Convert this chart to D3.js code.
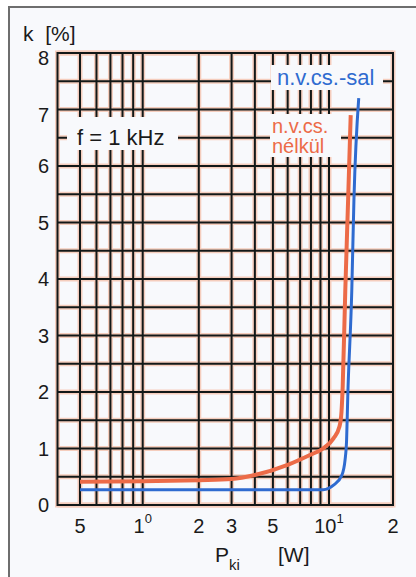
<!DOCTYPE html>
<html><head><meta charset="utf-8">
<script src="https://cdn.jsdelivr.net/npm/d3@7/dist/d3.min.js"></script>
<style>
html,body{margin:0;padding:0;background:#fff;}
svg{display:block;font-family:"Liberation Sans",Arial,Helvetica,sans-serif;}
</style></head>
<body>
<svg id="c" width="416" height="577"></svg>
<script>
// ---- data ----
const xTicks = [0.5, 1, 2, 3, 5, 10, 20];
const xTickBase = ["5", "1", "2", "3", "5", "10", "2"];
const xTickSup = ["", "0", "", "", "", "1", ""];
const xGrid = [0.5, 0.6, 0.7, 0.8, 0.9, 1, 2, 3, 4, 5, 6, 7, 8, 9, 10];
const yTicks = [0, 1, 2, 3, 4, 5, 6, 7, 8];
const yGrid = [0, 0.5, 1, 1.5, 2, 2.5, 3, 3.5, 4, 4.5, 5, 5.5, 6, 6.5, 7, 7.5, 8];
// n.v.cs.-sal (with negative feedback)
const pSal = [0.5, 1, 2, 5, 9.3, 10.5, 11.5, 11.9, 12.1, 12.25, 12.8, 13.1, 13.8];
const kSal = [0.27, 0.27, 0.27, 0.27, 0.27, 0.35, 0.53, 0.80, 1.15, 1.9, 3.8, 5.4, 7.2];
// n.v.cs. nélkül (without negative feedback)
const pNel = [0.5, 1, 2, 3, 4, 6, 7.9, 9.3, 10.5, 11.2, 11.45, 11.6, 11.93, 12.3, 12.65];
const kNel = [0.41, 0.42, 0.44, 0.46, 0.53, 0.71, 0.885, 1.0, 1.18, 1.39, 1.65, 2.1, 3.8, 5.4, 6.9];

// ---- layout ----
const svg = d3.select("#c");
const bg = "#f8f9fc";
const x = d3.scaleLog().domain([0.39, 1, 10, 20]).range([57.5, 142.7, 329, 393]);
const y = d3.scaleLinear().domain([0, 8]).range([505, 53]);

// outer frame
svg.append("rect").attr("x", 0).attr("y", 0).attr("width", 416).attr("height", 577).attr("fill", "#fff");
svg.append("rect").attr("x", 9).attr("y", 7).attr("width", 430).attr("height", 600)
  .attr("fill", bg).attr("stroke", "#6e6e6e").attr("stroke-width", 2);

const g = svg.append("g");
const [x0, x1] = [x.range()[0], x.range()[x.range().length - 1]];
const [yb, yt] = y.range();

function gridLayer(color, width) {
  const l = g.append("g").attr("stroke", color).attr("stroke-width", width).attr("fill", "none");
  l.selectAll("line.v").data(xGrid).join("line").attr("class", "v")
    .attr("x1", d => x(d)).attr("x2", d => x(d)).attr("y1", yb).attr("y2", yt);
  l.selectAll("line.h").data(yGrid).join("line").attr("class", "h")
    .attr("x1", x0).attr("x2", x1).attr("y1", d => y(d)).attr("y2", d => y(d));
  l.append("rect").attr("x", x0).attr("y", yt).attr("width", x1 - x0).attr("height", yb - yt);
}
gridLayer("#f5cdbd", 5);
gridLayer("#121818", 2);

// label knockouts
function knock(x, y, w, h) {
  g.append("rect").attr("x", x).attr("y", y).attr("width", w).attr("height", h).attr("fill", bg);
}
knock(67, 117, 111, 33);
knock(271, 65, 112, 25);
knock(270, 114, 71, 43);

// curves
const line = d3.line().x(d => x(d[0])).y(d => y(d[1])).curve(d3.curveMonotoneX);
g.append("path").datum(pNel.map((p, i) => [p, kNel[i]])).attr("d", line)
  .attr("fill", "none").attr("stroke", "#ec6b48").attr("stroke-width", 4).attr("stroke-linecap", "butt");
g.append("path").datum(pSal.map((p, i) => [p, kSal[i]])).attr("d", line)
  .attr("fill", "none").attr("stroke", "#2f6bd0").attr("stroke-width", 3).attr("stroke-linecap", "butt");

// y tick labels
svg.append("g").selectAll("text").data(yTicks).join("text")
  .attr("x", 49).attr("y", d => y(d)).attr("dy", d => d >= 7 ? "0.62em" : "0.36em")
  .attr("text-anchor", "end").attr("font-size", 20).attr("fill", "#1a1a1a").text(d => d);

// x tick labels
const xt = svg.append("g").selectAll("text").data(xTicks).join("text")
  .attr("x", d => x(d)).attr("y", 533).attr("text-anchor", "middle")
  .attr("font-size", 20).attr("fill", "#1a1a1a");
xt.append("tspan").text((d, i) => xTickBase[i]);
xt.append("tspan").attr("dy", -10).attr("font-size", 13).text((d, i) => xTickSup[i]);

// axis titles
svg.append("text").attr("x", 23).attr("y", 41).attr("font-size", 21).attr("fill", "#1a1a1a")
  .attr("xml:space", "preserve").text("k  [%]");
const pt = svg.append("text").attr("x", 215).attr("y", 562).attr("font-size", 21).attr("fill", "#1a1a1a");
pt.append("tspan").text("P");
pt.append("tspan").attr("dy", 8).attr("font-size", 15).text("ki");
svg.append("text").attr("x", 278).attr("y", 562).attr("font-size", 21).attr("fill", "#1a1a1a").text("[W]");

// annotations
svg.append("text").attr("x", 77).attr("y", 145).attr("font-size", 22).attr("fill", "#1a1a1a").text("f = 1 kHz");
svg.append("text").attr("x", 277).attr("y", 85).attr("font-size", 22).attr("fill", "#2f6bd0").text("n.v.cs.-sal");
svg.append("text").attr("x", 272).attr("y", 133).attr("font-size", 20).attr("fill", "#ec6b48").text("n.v.cs.");
svg.append("text").attr("x", 272).attr("y", 153).attr("font-size", 20).attr("fill", "#ec6b48").text("nélkül");
</script>
</body></html>
